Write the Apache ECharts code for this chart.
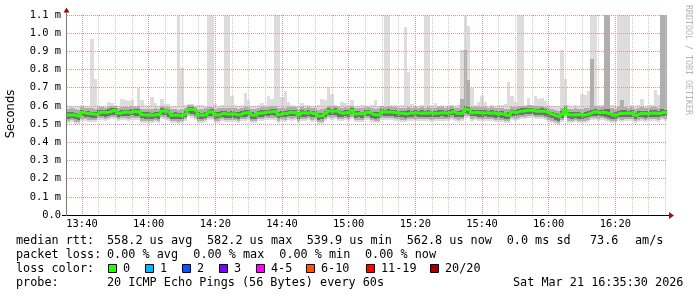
<!DOCTYPE html>
<html>
<head>
<meta charset="utf-8">
<script src="https://cdn.jsdelivr.net/npm/echarts@6.0.0/dist/echarts.min.js"></script>
<style>html,body{margin:0;padding:0;background:#fff}#c{width:697px;height:297px}</style>
</head>
<body>
<div id="c"></div>
<script>
// Samples: one every 60 s, first one at 13:35:30 (minutes after 13:00)
const startMinute = 35.5;
const sampleStep = 1;

// round-trip times in microseconds
const rttMedian = [
550,552,545,544,565,560,558,556,553,564,566,563,567,575,572,560,565,566,563,570,
568,569,552,550,550,548,553,551,572,570,562,548,550,547,549,560,582.2,580,570,550,
548,553,566,568,550,552,560,556,555,557,553,550,560,562,566,550,548,560,562,565,
566,570,568,552,560,558,566,563,565,550,562,560,564,558,560,545,547,560,572,570,
573,562,560,564,561,575,556,558,555,566,564,553,550,552,568,566,567,565,562,560,
558,556,562,560,563,559,561,560,562,558,560,561,563,560,562,570,560,558,562,581,
578,563,565,562,561,563,560,562,557,558,556,548,550,566,563,570,572,575,577,576,
571,570,572,568,558,552,545,539.9,556,579,552,550,553,551,549,552,558,566,568,563,
565,562,556,548,550,560,558,561,559,562,549,558,560,557,559,561,560,558,565,562.8];

const rttMax = [
598,602,600,601,603,597,600,966,750,604,598,600,620,617,605,600,640,630,627,630,
600,700,635,605,600,650,617,600,640,608,613,598,600,1150,810,603,612,608,600,604,
605,602,1150,1150,613,600,604,1150,1150,656,603,600,605,670,630,600,602,605,614,604,
656,640,1150,1150,650,684,620,604,600,602,617,603,605,600,600,603,640,635,705,663,
605,602,620,617,603,630,601,600,604,603,600,604,630,602,600,1150,1150,606,603,600,
604,1032,785,610,602,600,604,1150,1150,603,614,600,605,602,604,605,600,603,910,1150,
1040,696,605,620,656,620,602,604,600,603,605,610,730,656,620,1150,1150,606,645,604,
656,637,645,625,604,600,602,598,905,748,603,600,604,602,665,660,684,1150,1150,605,
603,1150,1150,604,602,1150,1150,1150,1150,604,600,603,640,602,605,604,687,660,1150,1150];

const rttHigh = [
585,588,582,580,592,590,588,586,584,594,592,590,596,600,598,590,594,595,592,598,
596,598,585,582,584,582,586,584,598,596,592,582,584,580,582,590,606,604,596,584,
582,586,594,596,584,586,590,588,586,590,586,584,590,592,596,584,582,590,594,596,
596,598,598,586,590,588,596,592,594,584,592,590,594,588,590,580,582,590,600,598,
600,592,590,594,590,602,588,590,586,596,594,586,584,586,598,596,598,596,592,590,
588,590,594,590,594,590,592,590,594,588,590,592,594,590,592,598,590,588,640,910,
740,594,596,592,592,594,590,594,588,590,588,582,584,596,594,598,600,602,604,604,
600,598,600,596,588,584,578,572,590,604,584,582,586,584,582,586,590,860,598,594,
596,1150,1150,586,584,592,630,592,590,594,582,590,592,588,590,592,592,590,1150,1150];

const rttUpper = [
564,565,559,558,579,574,572,569,567,578,580,576,581,589,586,574,579,580,577,584,
582,583,566,564,565,562,567,565,586,584,576,562,564,561,563,574,596,594,584,564,
562,567,580,582,564,566,574,570,569,571,567,564,574,576,580,564,562,574,576,579,
580,584,582,566,574,572,580,577,579,564,576,574,578,572,574,559,561,574,586,584,
587,576,574,578,575,589,570,572,569,580,578,567,564,566,582,580,581,579,576,574,
572,570,576,574,577,573,575,574,576,572,574,575,577,574,576,584,574,572,578,598,
596,577,579,576,575,577,574,576,571,572,570,562,564,580,577,584,586,589,591,590,
585,584,586,582,572,566,559,554,574,596,566,564,567,565,563,566,572,580,582,577,
579,581,581,562,564,574,576,575,573,576,563,572,574,571,573,575,576,572,582,580];

const rttLower = [
530,532,526,525,543,539,537,535,532,543,545,541,545,552,550,539,544,545,542,548,
546,547,531,529,530,527,532,530,550,548,541,527,529,526,528,539,560,558,548,529,
527,532,545,546,529,531,539,535,534,536,532,529,539,541,544,529,527,539,541,544,
545,548,546,531,539,537,545,542,544,529,541,539,543,537,539,524,526,539,550,548,
551,541,539,543,540,553,535,537,534,545,543,532,529,531,546,545,546,544,541,539,
537,535,541,539,542,538,540,539,541,537,539,540,542,539,541,548,539,537,541,559,
556,542,544,541,540,542,539,541,536,537,535,527,529,545,542,548,550,553,555,554,
550,549,551,547,537,531,524,519,535,557,531,529,532,530,528,531,537,545,547,542,
544,541,535,527,529,539,537,540,538,541,528,537,539,536,538,540,539,537,544,542];

const rttLow = [
518,521,514,513,530,527,525,522,520,531,533,529,533,540,538,527,532,533,530,536,
534,535,519,517,518,515,520,518,538,536,529,515,517,514,516,527,548,546,536,517,
515,520,533,534,517,519,527,523,522,524,520,517,527,529,532,517,515,527,529,532,
533,536,534,519,527,525,533,530,532,517,529,527,531,525,527,512,514,527,538,536,
539,529,527,531,528,541,523,525,522,533,531,520,517,519,534,533,534,532,529,527,
525,523,529,527,530,526,528,527,529,525,527,528,530,527,529,536,527,525,529,547,
544,530,532,529,528,530,527,529,524,525,523,515,517,533,530,536,538,541,543,542,
538,537,539,535,525,519,512,507,523,545,519,517,520,518,516,519,525,533,535,530,
532,529,523,515,517,527,525,528,526,529,516,525,527,524,526,528,527,525,532,530];

const rttMin = [
507,510,503,502,519,516,514,511,509,520,522,518,522,529,527,516,521,522,519,525,
523,524,508,506,507,504,509,507,527,525,518,504,506,503,505,516,537,535,525,506,
504,509,522,523,506,508,516,512,511,513,509,506,516,518,521,506,504,516,518,521,
522,525,523,508,516,514,522,519,521,506,518,516,520,514,516,501,503,516,527,525,
528,518,516,520,517,530,512,514,511,522,520,509,506,508,523,522,523,521,518,516,
514,512,518,516,519,515,517,516,518,514,516,517,519,516,518,525,516,514,518,536,
533,519,521,518,517,519,516,518,513,514,512,504,506,522,519,525,527,530,532,531,
527,526,528,524,514,508,501,496,512,534,508,506,509,507,505,508,514,522,524,519,
521,518,512,504,506,516,514,517,515,518,505,514,516,513,515,517,516,514,521,519];

const xTickLabels = ['13:40','14:00','14:20','14:40','15:00','15:20','15:40','16:00','16:20'];
const yTickLabels = ['0.0','0.1 m','0.2 m','0.3 m','0.4 m','0.5 m','0.6 m','0.7 m','0.8 m','0.9 m','1.0 m','1.1 m'];

const lossLabels = ['0','1','2','3','4-5','6-10','11-19','20/20'];
const lossColors = ['#26ff00','#00b8ff','#0059ff','#7e00ff','#ff00ff','#ff5500','#ff0000','#a10000'];

const statRows = [
  [['median rtt:',16],['558.2 us avg',107],['582.2 us max',207],['539.9 us min',306.7],['562.8 us now',406.7],['0.0 ms sd',506.7],['73.6',590],['am/s',635]],
  [['packet loss:',16],['0.00 % avg',107],['0.00 % max',193.3],['0.00 % min',279.3],['0.00 % now',365]],
  [['loss color:',16]],
  [['probe:',16],['20 ICMP Echo Pings (56 Bytes) every 60s',107],['Sat Mar 21 16:35:30 2026',513]]
];

const times = rttMedian.map((_, i) => startMinute + i * sampleStep);

const chart = echarts.init(document.getElementById('c'), null, {renderer: 'canvas'});

function band(lo, hi, color) {
  return {
    type: 'custom', z: 2, silent: true, animation: false,
    renderItem: function (params, api) {
      const t = api.value(0);
      const a = api.coord([t, api.value(1)]);
      const b = api.coord([t + sampleStep, api.value(2)]);
      const x0 = Math.round(a[0]), x1 = Math.round(b[0]);
      const y0 = Math.round(a[1]), y1 = Math.round(b[1]);
      const cs = params.coordSys;
      const shape = echarts.graphic.clipRectByRect(
        {x: x0, y: y1, width: x1 - x0, height: y0 - y1},
        {x: cs.x, y: cs.y, width: cs.width, height: cs.height});
      return shape && {type: 'rect', shape: shape, style: {fill: color}};
    },
    encode: {x: 0, y: [1, 2]},
    data: times.map((t, i) => [t, lo[i] / 1000, hi[i] / 1000])
  };
}

const medianData = times.map((t, i) => [t, rttMedian[i] / 1000]);
medianData.push([times[times.length - 1] + sampleStep, rttMedian[rttMedian.length - 1] / 1000]);

const MONO = "'DejaVu Sans Mono', monospace";
const legendFont = "11.8px " + MONO;
const graphics = [];
const rowY = [240.5, 254.7, 268.9, 283.1];
statRows.forEach((row, r) => row.forEach(p => graphics.push({
  type: 'text', x: p[1], y: rowY[r], silent: true,
  style: {text: p[0], font: legendFont, fill: '#000', align: 'left', verticalAlign: 'middle', textAlign: 'left', textVerticalAlign: 'middle'}
})));
const boxX = [108.5, 145.5, 182.5, 219.5, 256.5, 306.5, 366.5, 430.5];
lossLabels.forEach((lab, k) => {
  graphics.push({type: 'rect', silent: true, shape: {x: boxX[k], y: 264.5, width: 8, height: 8},
    style: {fill: lossColors[k], stroke: '#000', lineWidth: 1}});
  graphics.push({type: 'text', silent: true, x: boxX[k] + 14.5, y: rowY[2],
    style: {text: lab, font: legendFont, fill: '#000', align: 'left', verticalAlign: 'middle', textAlign: 'left', textVerticalAlign: 'middle'}});
});
graphics.push({type: 'text', silent: true, x: 11, y: 114, rotation: Math.PI / 2,
  style: {text: 'Seconds', font: "11.6px 'DejaVu Sans', sans-serif", fill: '#000', align: 'center', verticalAlign: 'middle', textAlign: 'center', textVerticalAlign: 'middle'}});
graphics.push({type: 'text', silent: true, x: 688, y: 60, rotation: -Math.PI / 2,
  style: {text: 'RRDTOOL / TOBI OETIKER', font: "8.3px " + MONO, fill: '#b4b4b4', align: 'center', verticalAlign: 'middle', textAlign: 'center', textVerticalAlign: 'middle'}});
// axis lines with arrows
graphics.push({type: 'line', silent: true, z: 10, shape: {x1: 62, y1: 215.5, x2: 669, y2: 215.5}, style: {stroke: '#000', lineWidth: 1}});
graphics.push({type: 'line', silent: true, z: 10, shape: {x1: 66.5, y1: 216, x2: 66.5, y2: 11}, style: {stroke: '#7a7a7a', lineWidth: 1}});
graphics.push({type: 'polygon', silent: true, z: 10, shape: {points: [[669, 212], [669, 219], [674, 215.5]]}, style: {fill: '#8b1a1a'}});
graphics.push({type: 'polygon', silent: true, z: 10, shape: {points: [[63.5, 12.5], [69.5, 12.5], [66.5, 7.5]]}, style: {fill: '#8b1a1a'}});

const MAJOR = '#e09595';
const MINOR = '#c8c8c8';

chart.setOption({
  animation: false,
  backgroundColor: '#fff',
  grid: {left: 67, right: 30, top: 15, bottom: 82, containLabel: false},
  xAxis: {
    type: 'value', min: 35.5, max: 215.5, splitNumber: 9, minInterval: 20, maxInterval: 20, z: 3,
    axisLine: {show: false},
    axisTick: {show: false},
    axisLabel: {margin: 4, color: '#000', fontFamily: 'DejaVu Sans Mono', fontSize: 10.4,
      formatter: v => { const k = (v - 40) / 20; return Number.isInteger(k) && xTickLabels[k] ? xTickLabels[k] : ''; }},
    splitLine: {show: true, showMinLine: false, showMaxLine: false, lineStyle: {color: MAJOR, width: 1, type: [1, 1]}},
    minorTick: {show: false, splitNumber: 4},
    minorSplitLine: {show: true, lineStyle: {color: MINOR, width: 1, type: [1, 1]}}
  },
  yAxis: {
    type: 'value', min: 0, max: 1.1, interval: 0.1, z: 3,
    axisLine: {show: false},
    axisTick: {show: false},
    axisLabel: {margin: 6, color: '#000', fontFamily: 'DejaVu Sans Mono', fontSize: 10.4,
      formatter: v => yTickLabels[Math.round(v * 10)]},
    splitLine: {show: true, showMinLine: false, lineStyle: {color: MAJOR, width: 1, type: [1, 1]}}
  },
  graphic: {elements: graphics},
  series: [
    band(rttMin, rttMax, '#dddddd'),
    band(rttLow, rttHigh, '#afafaf'),
    band(rttLower, rttUpper, '#6f6f6f'),
    {
      type: 'line', z: 4, data: medianData, step: 'end', showSymbol: false, symbol: 'none',
      silent: true, clip: true,
      lineStyle: {color: '#26ff00', width: 3}
    }
  ]
});
</script>
</body>
</html>
